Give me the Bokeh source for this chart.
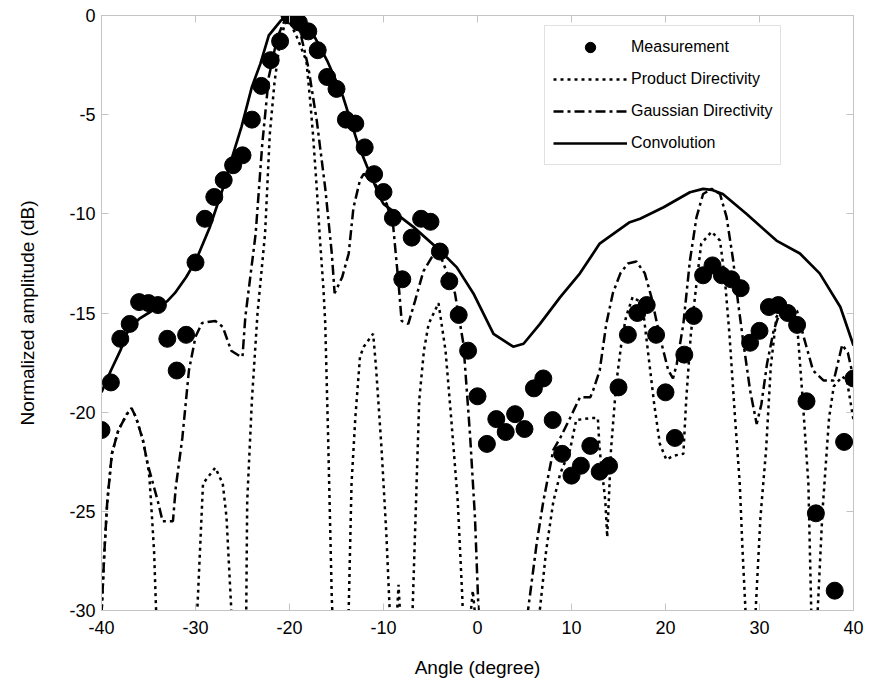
from bokeh.plotting import figure
from bokeh.models import Range1d, LinearAxis, FixedTicker, Legend
from bokeh.embed import file_html
from bokeh.resources import INLINE

# ---------------- data ----------------
meas_angle = [-40, -39, -38, -37, -36, -35, -34, -33, -32, -31, -30, -29, -28, -27, -26, -25,
              -24, -23, -22, -21, -20, -19, -18, -17, -16, -15, -14, -13, -12, -11, -10, -9,
              -8, -7, -6, -5, -4, -3, -2, -1, 0, 1, 2, 3, 4, 5, 6, 7, 8, 9, 10, 11, 12, 13,
              14, 15, 16, 17, 18, 19, 20, 21, 22, 23, 24, 25, 26, 27, 28, 29, 30, 31, 32,
              33, 34, 35, 36, 38, 39, 40]
meas_db = [-20.9, -18.5, -16.3, -15.55, -14.45, -14.5, -14.6, -16.3, -17.9, -16.1, -12.45,
           -10.25, -9.15, -8.3, -7.55, -7.05, -5.25, -3.55, -2.25, -1.3, 0.0, -0.35, -0.8,
           -1.75, -3.1, -3.7, -5.25, -5.45, -6.65, -8.0, -8.9, -10.2, -13.3, -11.2, -10.25,
           -10.4, -11.9, -13.4, -15.1, -16.9, -19.2, -21.6, -20.35, -21.0, -20.1, -20.85,
           -18.8, -18.3, -20.4, -22.1, -23.2, -22.7, -21.7, -23.0, -22.7, -18.75, -16.1,
           -15.0, -14.6, -16.1, -19.0, -21.3, -17.1, -15.15, -13.1, -12.6, -13.1, -13.3,
           -13.75, -16.5, -15.9, -14.7, -14.6, -15.0, -15.6, -19.45, -25.1, -29.0, -21.5,
           -18.3]

prod_angle = [-40, -39.7, -39.4, -38.9, -38.2, -37.3, -36.8, -36.3, -35.6, -35.1, -34.9, -34.6,
              -34.4, -34.2, -32, -29.8, -29.2, -27.9, -27.1, -26.7, -26.2, -25.4, -24.6, -24.5,
              -24.0, -23.4, -22.6, -22.1, -21.6, -21.1, -20.5, -20.0, -19.2, -18.2, -17.8,
              -17.5, -17.1, -16.8, -16.4, -16.2, -15.9, -15.5, -14.6, -13.7, -13.4, -13.0,
              -12.5, -12.1, -11.1, -10.8, -10.2, -9.7, -9.35, -9.0, -8.6, -8.4, -8.2, -7.6,
              -6.9, -6.2, -5.7, -5.2, -4.15, -3.4, -2.8, -2.1, -1.6, -1.2, -0.8, -0.5, -0.2,
              3.0, 6.65, 7.3, 8.07, 8.8, 9.84, 10.5, 12.0, 12.8, 13.0, 13.6, 13.8, 14.2,
              14.75, 15.3, 15.8, 16.5, 17.2, 17.7, 18.2, 18.8, 19.4, 20.1, 20.8, 21.9, 22.2,
              22.7, 23.3, 23.8, 24.9, 25.8, 26.3, 26.8, 27.4, 27.9, 28.2, 28.5, 29.0, 29.6,
              30.1, 30.7, 31.2, 31.8, 32.5, 33.6, 34.1, 34.6, 35.2, 35.5, 35.85, 36.2, 36.7,
              37.4, 37.9, 38.8, 39.3, 40.0]
prod_db = [-30.2, -27.1, -24.6, -22.1, -20.9, -20.1, -19.8, -20.3, -21.4, -22.6, -23.3, -25.5,
           -27.1, -29.9, -40, -29.9, -23.6, -22.8, -23.6, -25.3, -29.9, -40, -29.9, -24.5,
           -19.4, -15.0, -11.0, -6.0, -3.4, -1.6, -0.4, -0.3, -1.1, -2.3, -4.3, -6.0, -8.7,
           -11.0, -13.7, -15.5, -21.1, -29.4, -40, -29.9, -23.6, -20.3, -17.2, -16.7,
           -16.05, -17.7, -21.9, -26.1, -29.9, -40, -30.5, -28.7, -30.5, -40, -29.9, -19.4,
           -16.9, -15.55, -14.5, -16.9, -20.3, -24.5, -29.5, -40, -30.5, -29.0, -30.5, -40,
           -29.9, -27.0, -24.5, -23.1, -21.9, -20.4, -20.3, -20.3, -21.9, -24.5, -26.3,
           -21.9, -18.6, -16.55, -15.2, -14.2, -14.4, -15.2, -17.2, -19.6, -21.6, -22.4,
           -22.2, -22.1, -19.4, -16.05, -13.5, -11.5, -10.9, -11.35, -13.2, -16.05, -20.3,
           -23.6, -27.0, -29.9, -40, -29.9, -25.3, -21.9, -17.7, -15.2, -14.7, -14.9, -16.2,
           -19.4, -23.6, -29.9, -40, -29.9, -25.0, -20.3, -18.7, -18.2, -18.4, -20.4]

gauss_angle = [-40, -39.7, -39.4, -38.9, -38.2, -37.3, -36.8, -36.3, -35.6, -35.1, -34.0, -33.5,
               -32.4, -32.1, -31.4, -30.7, -30.0, -29.3, -27.9, -27.1, -26.2, -25.2, -25.0,
               -24.7, -23.6, -22.9, -22.2, -21.3, -20.6, -19.9, -18.9, -18.0, -17.1, -16.2,
               -15.5, -15.2, -14.4, -13.7, -13.2, -12.5, -12.1, -11.0, -9.66, -8.96, -8.4,
               -8.07, -7.36, -6.65, -5.76, -4.87, -4.17, -3.3, -2.4, -1.5, -0.8, -0.27, 0.1,
               2.7, 5.4, 6.3, 7.0, 8.07, 8.8, 9.84, 10.9, 12.0, 12.3, 13.0, 13.7, 14.4, 15.2,
               16.0, 16.9, 17.8, 18.5, 19.4, 20.3, 20.8, 21.2, 21.9, 22.6, 23.3, 24.0, 24.9,
               25.8, 26.5, 27.2, 27.7, 28.3, 29.0, 29.7, 30.2, 30.8, 31.5, 32.2, 33.2, 34.0,
               34.7, 35.7, 36.8, 37.9, 38.8, 39.4, 40.0]
gauss_db = [-30.2, -27.1, -24.6, -22.1, -20.9, -20.1, -19.8, -20.3, -21.4, -22.6, -24.5, -25.5,
            -25.5, -23.8, -21.3, -17.9, -16.2, -15.5, -15.4, -15.7, -16.9, -17.2, -17.2, -15.2,
            -11.0, -6.5, -3.1, -1.1, -0.34, -0.25, -0.76, -2.6, -5.3, -8.7, -12.0, -14.0,
            -13.2, -12.0, -9.7, -8.3, -7.98, -8.4, -9.5, -10.67, -13.5, -15.4, -15.55, -14.4,
            -12.9, -12.2, -11.85, -12.9, -14.0, -16.55, -21.1, -25.3, -29.9, -40, -29.9,
            -26.6, -24.5, -21.9, -21.3, -20.3, -19.25, -19.25, -18.9, -17.9, -15.55, -14.0,
            -13.0, -12.5, -12.4, -13.0, -14.2, -16.2, -17.9, -18.3, -17.56, -15.55, -12.35,
            -10.17, -9.0, -8.74, -9.0, -10.17, -12.35, -14.4, -16.55, -18.9, -20.6, -19.6,
            -17.56, -15.9, -14.9, -14.7, -14.9, -16.2, -17.9, -18.4, -18.4, -16.6, -17.0,
            -18.3]

conv_angle = [-40, -39, -38, -37.1, -36, -35, -34, -33, -32.2, -31, -30, -28.5, -27, -26.1,
              -25.1, -24.0, -23.1, -22.2, -20.9, -20.0, -18.5, -17.3, -16.0, -14.3, -12.7,
              -11.5, -10.2, -10.0, -6.8, -4.0, -2.2, -0.45, 1.7, 3.8, 4.9, 6.65, 8.8, 10.9,
              13.0, 13.7, 16.2, 17.3, 19.8, 22.6, 24.0, 24.9, 26.1, 28.6, 31.8, 34.3, 36.4,
              38.6, 40.0]
conv_db = [-19.0, -17.9, -16.9, -15.8, -15.3, -15.0, -14.7, -14.4, -14.0, -13.2, -12.4, -10.7,
           -8.6, -7.14, -5.6, -3.6, -2.44, -1.0, -0.25, 0.0, -0.4, -1.1, -2.27, -4.1, -6.5,
           -7.9, -9.33, -9.5, -10.67, -11.85, -12.7, -14.0, -16.05, -16.7, -16.55, -15.55,
           -14.2, -13.0, -11.5, -11.26, -10.42, -10.25, -9.67, -8.91, -8.74, -8.79, -9.0,
           -10.0, -11.35, -12.0, -13.0, -14.7, -16.64]

x_ticks = [-40, -30, -20, -10, 0, 10, 20, 30, 40]
y_ticks = [-30, -25, -20, -15, -10, -5, 0]
x_tick_labels = ["-40", "-30", "-20", "-10", "0", "10", "20", "30", "40"]
y_tick_labels = ["-30", "-25", "-20", "-15", "-10", "-5", "0"]

FONT = "Liberation Sans"
GRAY = "#c4c4c4"

p = figure(width=869, height=688, output_backend="svg", toolbar_location=None,
           x_range=Range1d(-40, 40), y_range=Range1d(-30, 0),
           min_border_left=101, min_border_right=16, min_border_top=15, min_border_bottom=78)
p.background_fill_color = "white"
p.border_fill_color = "white"
p.outline_line_color = GRAY
p.outline_line_width = 1
p.grid.visible = False

p.xaxis.ticker = FixedTicker(ticks=x_ticks)
p.yaxis.ticker = FixedTicker(ticks=y_ticks)
p.xaxis.major_label_overrides = dict(zip(x_ticks, x_tick_labels))
p.yaxis.major_label_overrides = dict(zip(y_ticks, y_tick_labels))
for ax in (p.xaxis[0], p.yaxis[0]):
    ax.axis_line_color = GRAY
    ax.major_tick_line_color = GRAY
    ax.major_tick_in = 7
    ax.major_tick_out = 0
    ax.minor_tick_line_color = None
    ax.major_label_text_font = FONT
    ax.major_label_text_font_size = "18px"
    ax.major_label_text_color = "black"
    ax.axis_label_text_font = FONT
    ax.axis_label_text_font_size = "19px"
    ax.axis_label_text_font_style = "normal"
    ax.axis_label_text_color = "black"
p.xaxis.axis_label = "Angle (degree)"
p.yaxis.axis_label = "Normalized amplitude (dB)"
p.xaxis.major_label_standoff = 10
p.xaxis.axis_label_standoff = 20
p.yaxis.major_label_standoff = 6
p.yaxis.axis_label_standoff = 28

# box ticks on the top and right sides (no labels there)
top = LinearAxis(ticker=FixedTicker(ticks=x_ticks),
                 major_label_overrides={t: "" for t in x_ticks})
right = LinearAxis(ticker=FixedTicker(ticks=y_ticks),
                   major_label_overrides={t: "" for t in y_ticks})
for ax in (top, right):
    ax.axis_line_color = GRAY
    ax.major_tick_line_color = GRAY
    ax.major_tick_in = 7
    ax.major_tick_out = 0
    ax.minor_tick_line_color = None
    ax.major_label_standoff = 0
p.add_layout(top, "above")
p.add_layout(right, "right")

r_meas = p.scatter(meas_angle, meas_db, marker="circle", size=17, fill_color="black",
                   line_color="black")
r_prod = p.line(prod_angle, prod_db, line_color="black", line_width=2.5, line_dash="3 4")
r_gauss = p.line(gauss_angle, gauss_db, line_color="black", line_width=2.5,
                 line_dash="10 4 3 4")
r_conv = p.line(conv_angle, conv_db, line_color="black", line_width=2.7)

legend = Legend(items=[("Measurement", [r_meas]), ("Product Directivity", [r_prod]),
                       ("Gaussian Directivity", [r_gauss]), ("Convolution", [r_conv])],
                location=(443, 445))
legend.label_text_font = FONT
legend.label_text_font_size = "16px"
legend.label_text_color = "black"
legend.glyph_width = 74
legend.glyph_height = 26
legend.label_height = 26
legend.label_standoff = 4
legend.spacing = 6
legend.padding = 8
legend.margin = 0
legend.border_line_color = GRAY
legend.border_line_width = 1
legend.background_fill_color = "white"
legend.background_fill_alpha = 1
p.add_layout(legend, "center")

open("out.html", "w").write(file_html(p, INLINE))
